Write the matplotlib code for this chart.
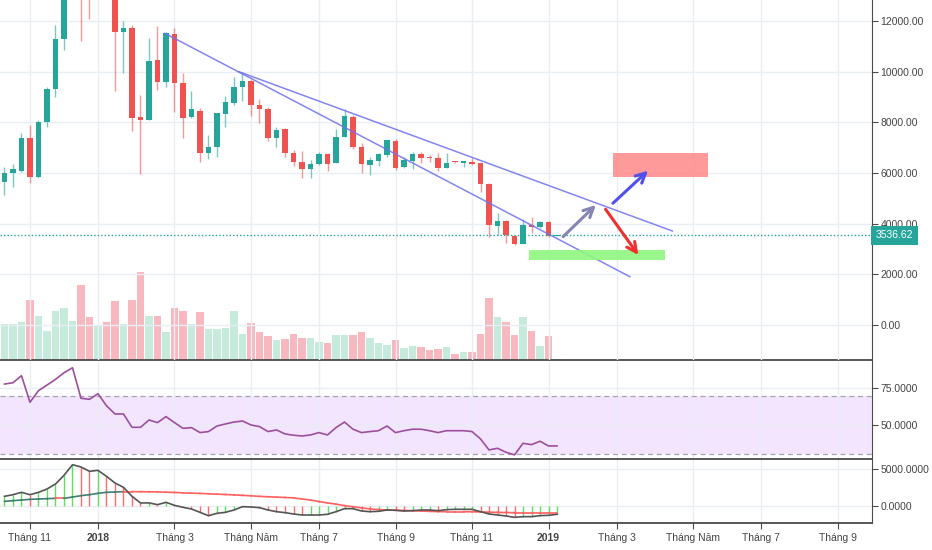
import matplotlib
matplotlib.use('agg')
import matplotlib.pyplot as plt
import matplotlib.dates as mdates
import matplotlib.transforms as mtransforms
from matplotlib.patches import Rectangle
import numpy as np
import pandas as pd

plt.rcParams['font.family'] = ['Liberation Sans', 'DejaVu Sans']

# weekly candles, mid Oct 2017 -> mid Jan 2019
weeks = pd.date_range('2017-10-16', periods=66, freq='7D')

opens = [5657, 5989, 6092, 7371, 5855, 8003, 9305, 11279, 15200, 19000,
         13900, 13500, 16200, 13600, 11556, 11714, 8200, 8093, 10462, 9594,
         11489, 9566, 8224, 8462, 6802, 7016, 8330, 8776, 9408, 9645,
         8686, 8516, 7371, 7726, 6802, 6447, 6147, 6344, 6739, 6384,
         7410, 8224, 7016, 6317, 6487, 6712, 7276, 6250, 6487, 6739,
         6645, 6581, 6186, 6460, 6400, 6435, 6384, 5567, 3920, 4118,
         3526, 3198, 3948, 3857, 4078, 3514]
highs = [6252, 6356, 7592, 7896, 8093, 9384, 11844, 16800, 19800, 19700,
         16400, 17200, 17100, 13800, 12014, 11844, 9080, 11318, 11805, 11555,
         11713, 9937, 9238, 8555, 7501, 8358, 9041, 9779, 10000, 9672,
         8910, 8595, 7805, 7766, 6909, 6870, 6514, 6818, 6779, 7726,
         8516, 8303, 7174, 6645, 6803, 7331, 7331, 6621, 6842, 6842,
         6712, 6779, 6779, 6460, 6487, 6580, 6384, 5594, 4434, 4145,
         3553, 4173, 4252, 4118, 4118, 3560]
lows = [5132, 5436, 6052, 5594, 5800, 7830, 9013, 10857, 13200, 11212,
        12069, 12950, 12900, 9250, 9960, 7659, 5961, 8093, 9278, 9410,
        8421, 7371, 8160, 6447, 6542, 6644, 7829, 8686, 8843, 8251,
        7963, 7276, 7039, 6644, 6277, 5815, 5815, 6317, 6092, 6384,
        7410, 6937, 6013, 5922, 6277, 6645, 6119, 6186, 6147, 6384,
        6447, 6092, 6186, 6400, 6250, 6317, 5262, 3486, 3553, 3225,
        3158, 3198, 3644, 3817, 3486, 3500]
closes = [5989, 6159, 7371, 5855, 8003, 9305, 11279, 15200, 19000, 13900,
          13500, 16200, 13600, 11556, 11714, 8160, 8093, 10423, 9594, 11528,
          9542, 8160, 8515, 6802, 7039, 8358, 8792, 9384, 9645, 8686,
          8516, 7371, 7699, 6802, 6447, 6147, 6344, 6739, 6344, 7410,
          8251, 7016, 6344, 6514, 6739, 7304, 6210, 6514, 6739, 6581,
          6581, 6186, 6408, 6420, 6420, 6356, 5567, 3948, 4118, 3553,
          3198, 3948, 3857, 4078, 3514, 3536.62]
volume = [36, 36, 38, 60, 44, 28.7, 49.3, 52.3, 39.3, 75.3,
          42.7, 34.3, 38.3, 59, 36, 60, 88.3, 44, 44, 27.7,
          52.3, 49, 36, 48, 30.7, 30.7, 31.7, 49, 26.3, 37.3,
          27.7, 24, 20, 21, 26.3, 22, 22, 17.7, 16.7, 25,
          25, 25, 27.7, 22, 16.7, 15.3, 20, 12.3, 14.3, 13.3,
          10, 11, 13.3, 5.7, 8, 8, 26.3, 62, 42.7, 38.3,
          25, 42.7, 28.7, 14.3, 24, 0.7]
rsi = [77.9, 78.8, 83.6, 65.5, 73.4, 77.2, 81.1, 85.6, 89.0, 68.2,
       67.5, 71.3, 63.1, 57.5, 57.5, 48.4, 48.4, 53.4, 51.6, 55.7,
       51.6, 47.7, 48.2, 44.8, 45.5, 49.3, 50.7, 52.0, 52.7, 50.0,
       48.9, 45.5, 46.6, 43.9, 43.0, 42.5, 43.2, 44.8, 43.2, 48.2,
       52.0, 47.1, 44.8, 45.5, 46.1, 49.3, 44.8, 46.1, 47.1, 47.1,
       46.1, 44.8, 46.1, 46.1, 46.1, 45.5, 40.5, 33.0, 34.1, 31.4,
       29.6, 37.5, 36.6, 38.9, 35.7, 35.7]
macd = [1310, 1527, 1850, 1527, 1850, 2297, 2972, 4144, 5580, 5269,
        4684, 4820, 4010, 3107, 2520, 1310, 405, 420, 180, 495,
        90, -180, -405, -855, -1310, -990, -855, -540, -90, -135,
        -225, -540, -765, -900, -1080, -1215, -1215, -1215, -1125, -765,
        -360, -360, -675, -765, -720, -540, -585, -675, -630, -540,
        -540, -630, -495, -450, -450, -450, -765, -1080, -1215, -1350,
        -1530, -1440, -1440, -1305, -1260, -1125]
signal = [630, 720, 810, 900, 945, 990, 1035, 1035, 1215, 1395,
          1530, 1710, 1850, 1890, 1936, 1936, 1930, 1920, 1900, 1870,
          1830, 1780, 1730, 1700, 1650, 1600, 1550, 1500, 1440, 1380,
          1300, 1250, 1200, 1150, 1100, 950, 800, 600, 420, 250,
          50, -100, -250, -400, -480, -540, -570, -600, -640, -680,
          -720, -760, -770, -770, -770, -780, -800, -830, -860, -880,
          -900, -900, -900, -900, -900, -900]
last_price = 3536.62

# x axis labels
tick_dates = ['2017-11-06', '2018-01-01', '2018-03-05', '2018-05-07', '2018-07-02', '2018-09-03',
              '2018-11-05', '2019-01-07', '2019-03-04', '2019-05-06', '2019-07-01', '2019-09-02']
tick_labels = ['Tháng 11', '2018', 'Tháng 3', 'Tháng Năm', 'Tháng 7', 'Tháng 9',
               'Tháng 11', '2019', 'Tháng 3', 'Tháng Năm', 'Tháng 7', 'Tháng 9']

# drawings on the price pane (date, price)
trend_a = (['2018-02-25', '2019-03-15'], [11516, 1907])
trend_b = (['2018-04-27', '2019-04-19'], [10000, 3711])
arrow_gray = (('2019-01-19', 3486), ('2019-02-15', 4738))
arrow_blue = (('2019-03-01', 4805), ('2019-03-30', 6092))
arrow_red = (('2019-02-23', 4568), ('2019-03-22', 2764))
zone_red = (('2019-03-01', '2019-05-18'), (5831, 6802))
zone_green = (('2018-12-22', '2019-04-13'), (2566, 2961))

TEAL = '#26a69a'
RED = '#ef5350'
GRID = '#e8eef4'
AXC = '#4a4a4a'
TXT = '#444444'

def d(s):
    return mdates.date2num(pd.Timestamp(s))

def style_pane(a):
    for s in ['left']:
        a.spines[s].set_visible(False)
    a.spines['right'].set_color(AXC)
    a.spines['top'].set_color(AXC)
    a.spines['bottom'].set_color(AXC)
    a.spines['top'].set_linewidth(1.3)
    a.yaxis.tick_right()
    a.tick_params(axis='y', direction='out', length=4, width=0.8, colors=AXC,
                  labelcolor=TXT, labelsize=7.5, pad=2)
    a.grid(True, color=GRID, lw=1)
    a.set_axisbelow(True)


x = mdates.date2num(weeks)
o = np.array(opens, dtype=float)
c = np.array(closes, dtype=float)
up = c >= o
cols = np.where(up, TEAL, RED)

fig = plt.figure(figsize=(9.32, 5.5), dpi=100)
W = 872 / 932
ax = fig.add_axes([0, 1 - 360 / 550, W, 360 / 550])
axv = ax.twinx()
ax2 = fig.add_axes([0, 1 - 459 / 550, W, 99 / 550], sharex=ax)
ax3 = fig.add_axes([0, 1 - 523 / 550, W, 64 / 550], sharex=ax)

# volume (behind the candles)
axv.set_zorder(0)
ax.set_zorder(1)
ax.patch.set_visible(False)
vcols = np.where(up, '#c6eadb', '#f7b8c0')
axv.bar(x, volume, width=6.0, color=vcols, edgecolor='none')
axv.set_ylim(0, 360)
axv.set_yticks([])
for s in axv.spines.values():
    s.set_visible(False)

# candles
ax.vlines(x, lows, highs, colors=cols, lw=1, alpha=0.6)
body_lo = np.minimum(o, c)
body_h = np.maximum(np.abs(c - o), 55)
ax.bar(x, body_h, bottom=body_lo, width=4.6, color=cols, edgecolor='none')

# trend lines
for t in [trend_a, trend_b]:
    ax.plot([d(s) for s in t[0]], t[1], color='#6f6ff0', lw=1.1, alpha=0.85)

# zones
for z, zc in [(zone_red, '#ff8f8f'), (zone_green, '#8ff77f')]:
    x0, x1 = d(z[0][0]), d(z[0][1])
    ax.add_patch(Rectangle((x0, z[1][0]), x1 - x0, z[1][1] - z[1][0],
                           facecolor=zc, edgecolor='none', alpha=0.9, zorder=3))

# arrows
for a, ac in [(arrow_gray, '#8585b5'), (arrow_blue, '#5050ee'), (arrow_red, '#ee3030')]:
    ax.annotate('', xy=(d(a[1][0]), a[1][1]), xytext=(d(a[0][0]), a[0][1]),
                arrowprops=dict(arrowstyle='->,head_length=0.7,head_width=0.35',
                                color=ac, lw=2.2, shrinkA=0, shrinkB=0), zorder=4)

# last price
ax.axhline(last_price, color=TEAL, lw=1, ls=(0, (1, 1.5)), zorder=2)
trans = mtransforms.blended_transform_factory(ax.transAxes, ax.transData)
ax.text(1.004, last_price, '3536.62', transform=trans, ha='left', va='center',
        color='white', fontsize=7.5, clip_on=False, zorder=10,
        bbox=dict(boxstyle='square,pad=0.45', fc=TEAL, ec='none'))

style_pane(ax)
ax.set_ylim(-1382, 12830)
ax.set_yticks(range(0, 12001, 2000))
ax.set_yticklabels(['%.2f' % v for v in range(0, 12001, 2000)])
ax.spines['top'].set_visible(False)
ax.spines['bottom'].set_visible(False)
ax.tick_params(axis='x', bottom=False, labelbottom=False)

# RSI pane
style_pane(ax2)
ax2.axhspan(30, 70, color='#f3e5fd', lw=0, zorder=0)
ax2.axhline(70, color='#a3a3b3', lw=0.9, ls=(0, (4, 3)))
ax2.axhline(30, color='#a3a3b3', lw=0.9, ls=(0, (4, 3)))
ax2.plot(x, rsi, color='#9c4f9c', lw=1.2)
ax2.set_ylim(26.8, 94.3)
ax2.set_yticks([50, 75])
ax2.set_yticklabels(['50.0000', '75.0000'])
ax2.spines['bottom'].set_visible(False)
ax2.tick_params(axis='x', bottom=False, labelbottom=False)

# MACD pane
style_pane(ax3)
mac = np.array(macd, dtype=float)
hcols = ['#5ee05e' if i == 0 or mac[i] >= mac[i - 1] else '#ff6b6b' for i in range(len(mac))]
ax3.vlines(x, 0, mac, colors=hcols, lw=1)
sig = np.array(signal, dtype=float)
for i in range(len(sig) - 1):
    sc = '#3f7f72' if sig[i + 1] > sig[i] else '#ff6060'
    ax3.plot(x[i:i + 2], sig[i:i + 2], color=sc, lw=1.2)
ax3.plot(x, mac, color='#555555', lw=1.2)
ax3.set_ylim(-2297, 6350)
ax3.set_yticks([0, 5000])
ax3.set_yticklabels(['0.0000', '5000.0000'])
ax3.spines['bottom'].set_linewidth(1.3)

ax3.set_xticks([d(s) for s in tick_dates])
ax3.set_xticklabels(tick_labels)
ax3.tick_params(axis='x', direction='out', length=4, width=0.8, colors=AXC,
                labelcolor=TXT, labelsize=7.5, pad=3)
for lbl in ax3.get_xticklabels():
    if lbl.get_text() in ('2018', '2019'):
        lbl.set_fontweight('bold')

ax.set_xlim(d('2018-01-01') - 80.7, d('2018-01-01') + 637.4)

fig.savefig('out.png', dpi=100, facecolor='white')
